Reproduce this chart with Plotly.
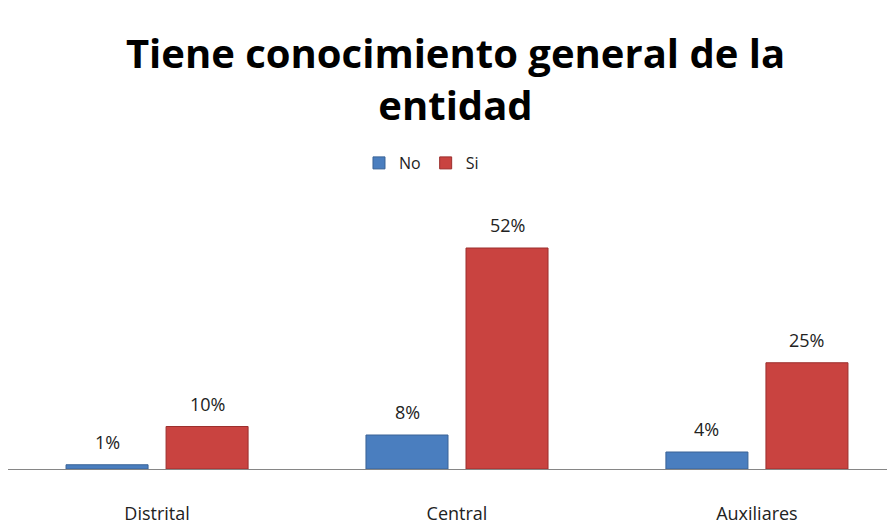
import plotly.graph_objects as go

# datos (porcentajes)
categorias = ["Distrital", "Central", "Auxiliares"]
no_vals = [1, 8, 4]
si_vals = [10, 52, 25]

FONT = "Open Sans"

fig = go.Figure()
fig.add_trace(go.Bar(x=categorias, y=no_vals, name="No",
                     marker_color="#4A7EBF",
                     marker_line=dict(color="#3A6396", width=1)))
fig.add_trace(go.Bar(x=categorias, y=si_vals, name="Si",
                     marker_color="#C94340",
                     marker_line=dict(color="#9C2F2D", width=1)))

# etiquetas de porcentaje encima de cada barra
for serie, dx in ((no_vals, -50), (si_vals, 50)):
    for cat, v in zip(categorias, serie):
        fig.add_annotation(x=cat, y=v, text=f"{v}%", showarrow=False,
                           xshift=dx, yshift=23,
                           font=dict(family=FONT, size=18, color="#222"))

fig.update_layout(
    width=895, height=524,
    paper_bgcolor="white", plot_bgcolor="white",
    margin=dict(l=0, r=0, t=206, b=63),
    barmode="group", bargap=0.333, bargroupgap=0.18,
    title=dict(text="<b>Tiene conocimiento general de la<br>entidad</b>",
               x=0.5, xanchor="center", y=0.885, yanchor="top",
               font=dict(family=FONT, size=40, color="black")),
    legend=dict(orientation="h", x=0.462, xanchor="center", y=1.2, yanchor="middle",
                font=dict(family=FONT, size=16, color="#222"),
                itemwidth=30),
    showlegend=True,
)
fig.update_xaxes(range=[-0.497, 2.487], showline=True, linecolor="#868686",
                 linewidth=1, ticks="", ticklabelstandoff=28, automargin=False,
                 tickfont=dict(family=FONT, size=18, color="#222"))
fig.update_yaxes(range=[0, 60], visible=False, showgrid=False, automargin=False)

fig.write_html("out.html")
